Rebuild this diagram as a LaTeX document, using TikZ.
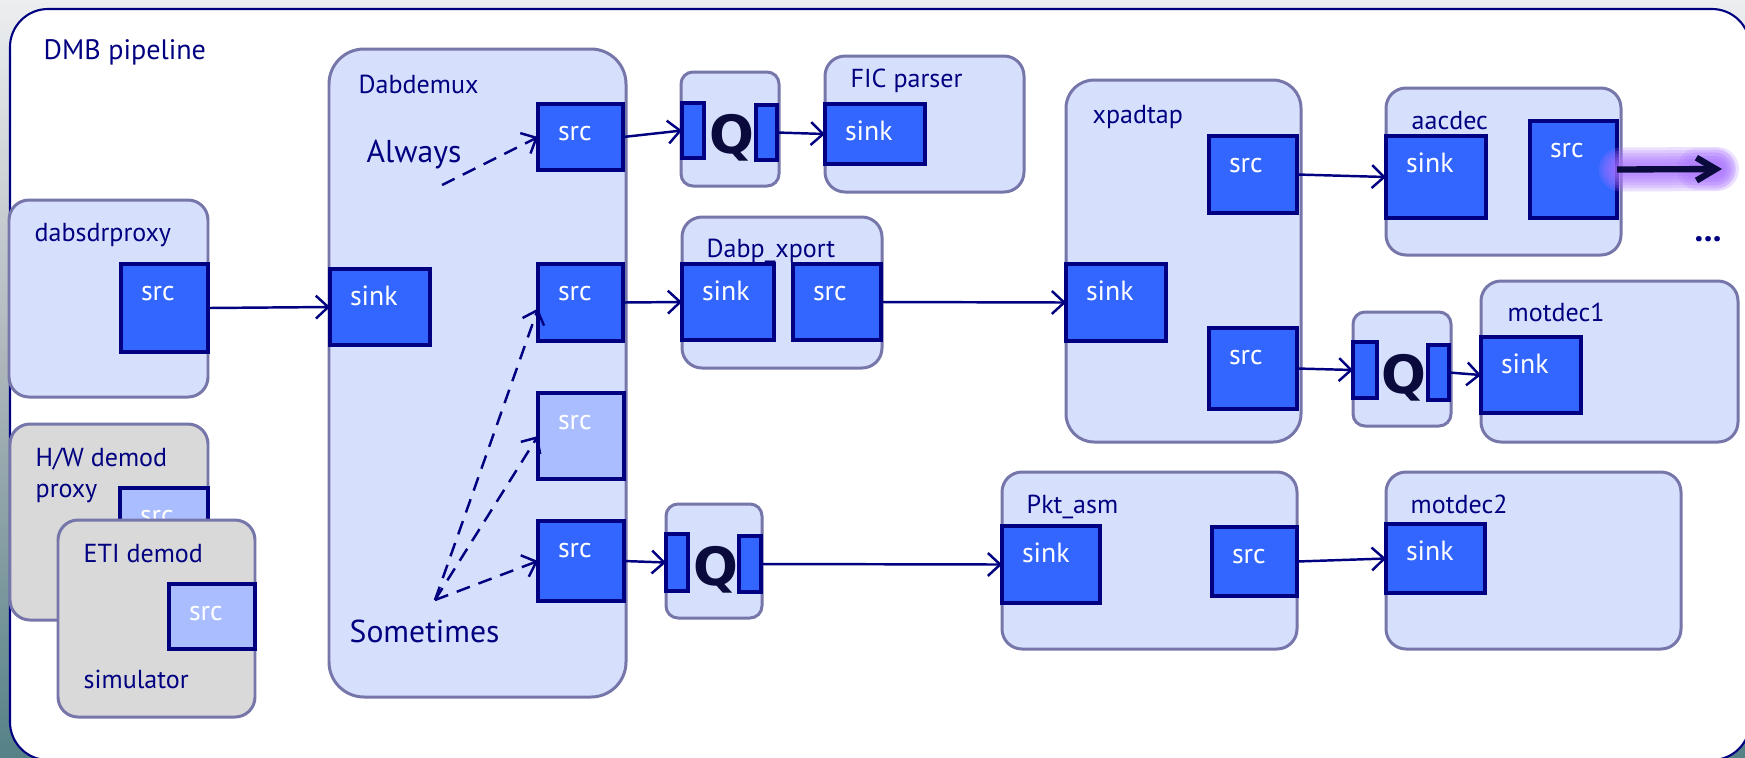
\documentclass[tikz,border=0pt]{standalone}
\usepackage{fontspec}
\setmainfont{PT Sans}
\newfontfamily\qfam{DejaVu Sans}
\usetikzlibrary{arrows.meta,fit}

\definecolor{boxfill}{RGB}{214,224,252}
\definecolor{boxline}{RGB}{118,118,170}
\definecolor{padblue}{RGB}{51,102,255}
\definecolor{padlight}{RGB}{170,190,255}
\definecolor{navy}{RGB}{0,0,128}
\definecolor{greyfill}{RGB}{217,217,217}
\definecolor{qink}{RGB}{10,10,60}
\definecolor{glowc}{RGB}{170,115,255}
\definecolor{bgtop}{RGB}{236,238,240}
\definecolor{bgmid}{RGB}{170,180,184}
\definecolor{bgbot}{RGB}{85,130,135}

\newcommand\labfont{\fontsize{7.4}{9}\selectfont}
\newcommand\padfont{\fontsize{7.9}{9}\selectfont}
\newcommand\notefont{\fontsize{9}{11}\selectfont}
\newcommand\qfont{\qfam\fontsize{15}{17}\selectfont\bfseries}

\begin{document}
\begin{tikzpicture}[x=0.01cm, y=-0.01cm,
  cont/.style={draw=boxline, fill=boxfill, line width=0.85pt, rounded corners=#1, inner sep=0pt, outer sep=0pt},
  cont/.default=0.2cm,
  greybox/.style={cont=0.2cm, fill=greyfill},
  pad/.style={draw=navy, fill=padblue, line width=1pt, inner sep=0pt, outer sep=0pt},
  padpale/.style={pad, fill=padlight},
  ptxt/.style={anchor=base west, text=white, font=\padfont, inner sep=0pt, outer sep=0pt, xshift=0.20cm, yshift=-0.365cm},
  ctxt/.style={anchor=base west, text=navy, font=\labfont, inner sep=0pt},
  note/.style={anchor=base west, text=navy, font=\notefont, inner sep=0pt},
  qtxt/.style={anchor=base, text=qink, font=\qfont, inner sep=0pt},
  wire/.style={draw=navy, line width=0.7pt, -{Straight Barb[length=3.5pt,width=6.5pt]}},
  maybe/.style={wire, dash pattern=on 4pt off 2.6pt},
]
\useasboundingbox (0,0) rectangle (1745,757);

% slide background and the pipeline frame
\shade[top color=bgtop, bottom color=bgbot, middle color=bgmid] (0,0) rectangle (1745,757);
\node[draw=navy, fill=white, line width=0.6pt, rounded corners=0.38cm, inner sep=0pt, fit={(10,9)(1750,760)}] (frame) {};
\node[ctxt, font=\fontsize{8}{10}\selectfont] (title) at (43,59) {DMB pipeline};

% sources
\node[cont, fit={(9,200)(208,397)}] (dabsdr) {};
\node[ctxt] (dabsdrlab) at (34,241) {dabsdrproxy};
\node[pad, fit={(121,264)(208,352)}, label={[ptxt]north west:src}] (dsrc) {};

\node[greybox, fit={(10,424)(208,620)}] (hwbox) {};
\node[ctxt] (hwlab1) at (35,466) {H/W demod};
\node[ctxt] (hwlab2) at (35,497) {proxy};
\node[padpale, fit={(120,488)(208,560)}, label={[ptxt]north west:src}] (hwsrc) {};

\node[greybox, fit={(58,520)(255,717)}] (etibox) {};
\node[ctxt] (etilab1) at (83,562) {ETI demod};
\node[ctxt] (etilab2) at (83,688) {simulator};
\node[padpale, fit={(169,584)(255,649)}, label={[ptxt]north west:src}] (etisrc) {};

% demultiplexer
\node[cont=0.35cm, fit={(329,49)(626,697)}] (dabdemux) {};
\node[ctxt] (demuxlab) at (358,93) {Dabdemux};
\node[note] (always) at (366,162) {Always};
\node[note] (sometimes) at (349,642) {Sometimes};
\node[pad, fit={(330,269)(430,345)}, label={[ptxt]north west:sink}] (dsink) {};
\node[pad, fit={(538,104)(623,170)}, label={[ptxt]north west:src}] (s1) {};
\node[pad, fit={(538,264)(623,341)}, label={[ptxt]north west:src}] (s2) {};
\node[padpale, fit={(538,393)(624,479)}, label={[ptxt]north west:src}] (s3) {};
\node[pad, fit={(538,521)(624,601)}, label={[ptxt]north west:src}] (s4) {};

% queues
\node[cont=0.12cm, fit={(681,72)(779,186)}] (q1) {};
\node[pad, fit={(682,103)(704,158)}] (q1l) {};
\node[pad, fit={(756,105)(777,160)}] (q1r) {};
\node[qtxt] (q1t) at (732,153) {Q};

\node[cont=0.12cm, fit={(1353,312)(1451,426)}] (q2) {};
\node[pad, fit={(1353,342)(1377,398)}] (q2l) {};
\node[pad, fit={(1428,345)(1449,400)}] (q2r) {};
\node[qtxt] (q2t) at (1404,393) {Q};

\node[cont=0.12cm, fit={(666,504)(762,618)}] (q3) {};
\node[pad, fit={(666,534)(688,591)}] (q3l) {};
\node[pad, fit={(739,536)(761,592)}] (q3r) {};
\node[qtxt] (q3t) at (716,585) {Q};

% downstream elements
\node[cont, fit={(825,56)(1024,192)}] (fic) {};
\node[ctxt] (ficlab) at (850,87) {FIC parser};
\node[pad, fit={(825,104)(925,164)}, label={[ptxt]north west:sink}] (ficsink) {};

\node[cont, fit={(682,217)(882,368)}] (dabp) {};
\node[ctxt] (dabplab) at (706,257) {Dabp\_xport};
\node[pad, fit={(682,264)(774,340)}, label={[ptxt]north west:sink}] (dxsink) {};
\node[pad, fit={(793,264)(881,340)}, label={[ptxt]north west:src}] (dxsrc) {};

\node[cont=0.28cm, fit={(1066,80)(1301,442)}] (xpadtap) {};
\node[ctxt] (xpadlab) at (1092,123) {xpadtap};
\node[pad, fit={(1066,264)(1166,341)}, label={[ptxt]north west:sink}] (xsink) {};
\node[pad, fit={(1209,136)(1297,213)}, label={[ptxt]north west:src}] (xsrc1) {};
\node[pad, fit={(1209,328)(1297,409)}, label={[ptxt]north west:src}] (xsrc2) {};

\node[cont, fit={(1386,88)(1621,255)}] (aacdec) {};
\node[ctxt] (aaclab) at (1411,129) {aacdec};
\node[pad, fit={(1386,136)(1486,218)}, label={[ptxt]north west:sink}] (asink) {};
\node[pad, fit={(1530,121)(1617,218)}, label={[ptxt]north west:src}] (asrc) {};

\node[cont, fit={(1481,281)(1738,442)}] (motdec1) {};
\node[ctxt] (m1lab) at (1507,321) {motdec1};
\node[pad, fit={(1481,337)(1581,413)}, label={[ptxt]north west:sink}] (m1sink) {};

\node[cont, fit={(1002,472)(1297,649)}] (pkt) {};
\node[ctxt] (pktlab) at (1026,513) {Pkt\_asm};
\node[pad, fit={(1002,526)(1100,603)}, label={[ptxt]north west:sink}] (psink) {};
\node[pad, fit={(1212,527)(1297,596)}, label={[ptxt]north west:src}] (psrc) {};

\node[cont, fit={(1386,472)(1681,649)}] (motdec2) {};
\node[ctxt] (m2lab) at (1410,513) {motdec2};
\node[pad, fit={(1386,524)(1485,593)}, label={[ptxt]north west:sink}] (m2sink) {};

% links
\draw[wire] (dsrc.east) -- (dsink.west);
\draw[wire] (s1.east) -- (q1l.west);
\draw[wire] (q1r.east) -- (ficsink.west);
\draw[wire] (s2.east) -- (dxsink.west);
\draw[wire] (dxsrc.east) -- (xsink.west);
\draw[wire] (xsrc1.east) -- (asink.west);
\draw[wire] (xsrc2.east) -- (q2l.west);
\draw[wire] (q2r.east) -- (m1sink.west);
\draw[wire] (s4.east) -- (q3l.west);
\draw[wire] (q3r.east) -- (psink.west);
\draw[wire] (psrc.east) -- (m2sink.west);

% pad availability
\coordinate (alw) at (442,185);
\coordinate (smt) at (435,600);
\draw[maybe] (alw) -- (s1.west);
\draw[maybe] (smt) -- ([yshift=-0.06cm]s2.west);
\draw[maybe] (smt) -- (s3.west);
\draw[maybe] (smt) -- (s4.west);

% highlighted output with its glow
\coordinate (outp) at (1722,169);
\foreach \w in {0.44,0.38,0.32,0.26,0.20,0.14}{
  \draw[glowc, line width=\w cm, line cap=round, opacity=0.22] ([xshift=0.04cm]asrc.east) -- ([xshift=-0.05cm]outp);
}
\foreach \w in {0.42,0.34,0.26}{
  \draw[glowc, line width=\w cm, line cap=round, opacity=0.18] ([xshift=-0.24cm]outp) -- ([xshift=-0.08cm]outp);
}
\draw[draw=qink, line width=1.8pt, -{Straight Barb[length=5.5pt,width=6.5pt]}] (asrc.east) -- (outp);
\node[anchor=base west, text=navy, font=\fontsize{10}{12}\selectfont\bfseries, inner sep=0pt] (more) at (1694,241) {...};
\end{tikzpicture}
\end{document}
